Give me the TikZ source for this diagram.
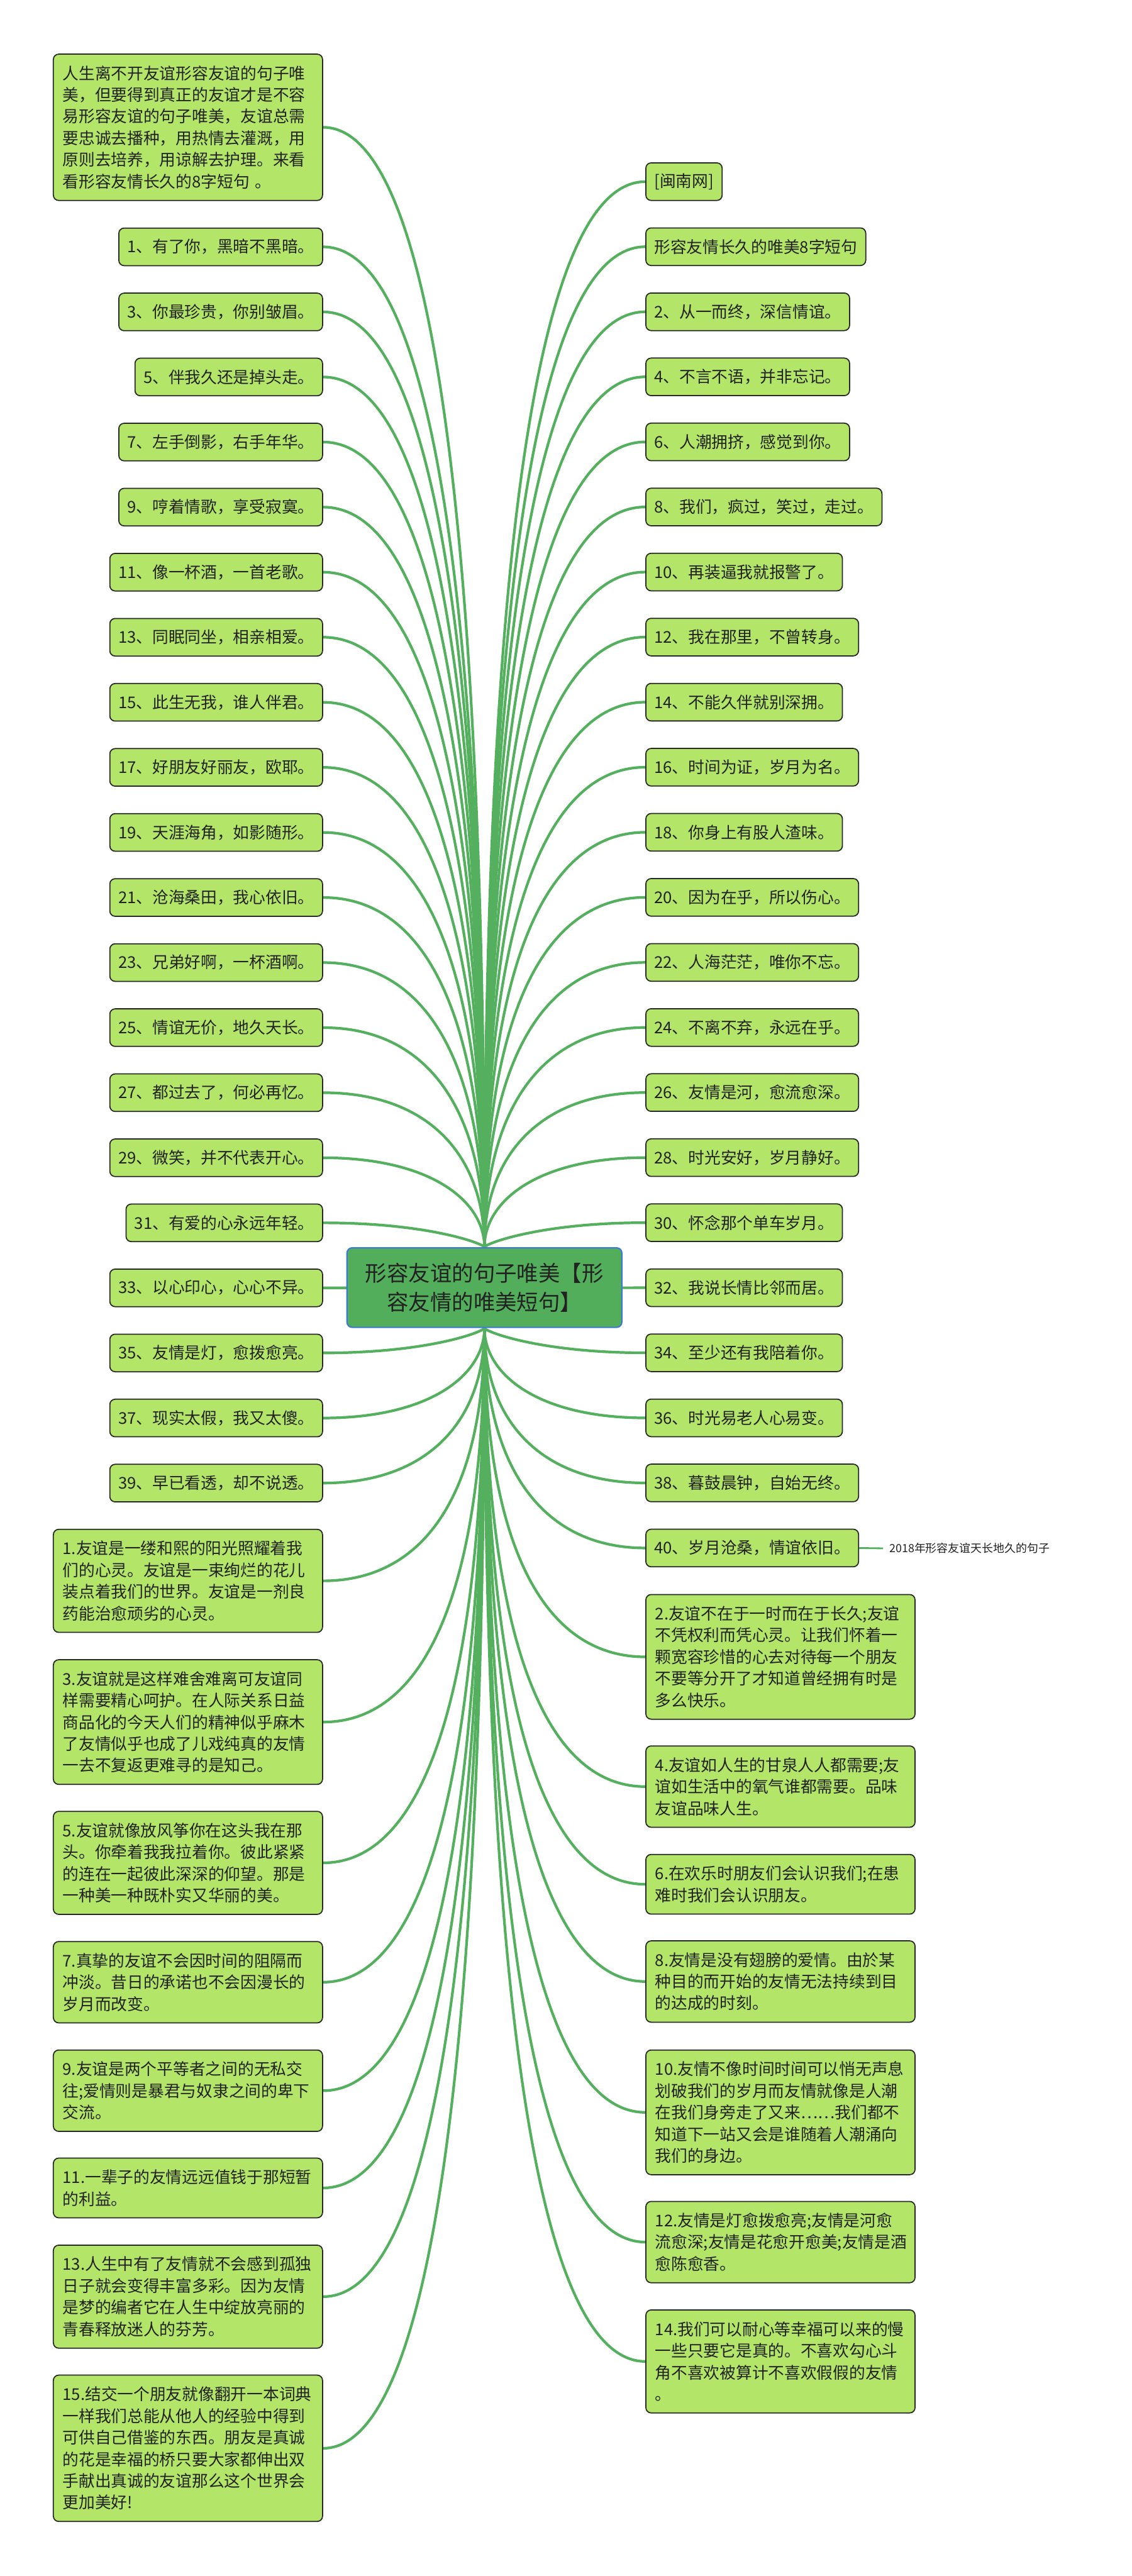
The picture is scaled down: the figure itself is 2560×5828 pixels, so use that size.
\documentclass[tikz,border=0pt]{standalone}
\usepackage{fontspec}
\setmainfont{Noto Sans CJK SC}
\usetikzlibrary{calc}
\definecolor{boxfill}{RGB}{179,230,104}
\definecolor{boxline}{RGB}{40,40,40}
\definecolor{edgec}{RGB}{84,176,94}
\definecolor{rootfill}{RGB}{82,174,90}
\definecolor{rootline}{RGB}{58,122,214}
\definecolor{txt}{RGB}{34,34,34}
\pgfdeclarelayer{background}
\pgfsetlayers{background,main}
\newcommand\lnk[2]{\draw[conn] (#1) .. controls ($(#1)!0.6667!(#2 -| #1)$) and ($(#2)!0.6667!(#2 -| #1)$) .. (#2);}
\begin{document}
\begin{tikzpicture}[x=1pt,y=-1pt,
  sbox/.style={draw=boxline, fill=boxfill, line width=2.5pt, rounded corners=12pt, inner xsep=19pt, inner ysep=0pt, minimum height=85pt, text=txt, font=\fontsize{36.6}{49}\selectfont},
  lbox/.style={sbox, text width=567pt, align=left, inner xsep=21pt},
  conn/.style={draw=edgec, line width=6pt},
  root/.style={draw=rootline, fill=rootfill, line width=3pt, rounded corners=12pt, minimum width=622pt, minimum height=180pt, inner sep=0pt, align=center, text=txt, font=\fontsize{49}{66}\selectfont},
  note/.style={anchor=west, inner xsep=14pt, inner ysep=0pt, text=txt, font=\fontsize{25.5}{30}\selectfont}]
\begin{pgfonlayer}{background}
\fill[white] (0,0) rectangle (2560,5828);
\end{pgfonlayer}
\useasboundingbox (0,0) rectangle (2560,5828);

\node[root] (cn) at (1096,2913) {形容友谊的句子唯美【形\\容友情的唯美短句】};

% left intro
\node[lbox, anchor=east, minimum height=331pt] (intro) at (731,288) {人生离不开友谊形容友谊的句子唯\\美，但要得到真正的友谊才是不容\\易形容友谊的句子唯美，友谊总需\\要忠诚去播种，用热情去灌溉，用\\原则去培养，用谅解去护理。来看\\看形容友情长久的8字短句 。};

% left short
\foreach \lbl [count=\i from 0] in {1、有了你，黑暗不黑暗。, 3、你最珍贵，你别皱眉。, 5、伴我久还是掉头走。, 7、左手倒影，右手年华。, 9、哼着情歌，享受寂寞。, 11、像一杯酒，一首老歌。, 13、同眠同坐，相亲相爱。, 15、此生无我，谁人伴君。, 17、好朋友好丽友，欧耶。, 19、天涯海角，如影随形。, 21、沧海桑田，我心依旧。, 23、兄弟好啊，一杯酒啊。, 25、情谊无价，地久天长。, 27、都过去了，何必再忆。, 29、微笑，并不代表开心。, 31、有爱的心永远年轻。, 33、以心印心，心心不异。, 35、友情是灯，愈拨愈亮。, 37、现实太假，我又太傻。, 39、早已看透，却不说透。} {
  \node[sbox, anchor=east] (L\i) at (731,558.5+147.2*\i) {\lbl};
  \begin{pgfonlayer}{background}\lnk{cn}{L\i.east}\end{pgfonlayer}
}

% right short
\foreach \lbl [count=\i from 0] in {{[闽南网]}, 形容友情长久的唯美8字短句, 2、从一而终，深信情谊。, 4、不言不语，并非忘记。, 6、人潮拥挤，感觉到你。, 8、我们，疯过，笑过，走过。, 10、再装逼我就报警了。, 12、我在那里，不曾转身。, 14、不能久伴就别深拥。, 16、时间为证，岁月为名。, 18、你身上有股人渣味。, 20、因为在乎，所以伤心。, 22、人海茫茫，唯你不忘。, 24、不离不弃，永远在乎。, 26、友情是河，愈流愈深。, 28、时光安好，岁月静好。, 30、怀念那个单车岁月。, 32、我说长情比邻而居。, 34、至少还有我陪着你。, 36、时光易老人心易变。, 38、暮鼓晨钟，自始无终。, 40、岁月沧桑，情谊依旧。} {
  \node[sbox, anchor=west] (R\i) at (1460,411+147.2*\i) {\lbl};
  \begin{pgfonlayer}{background}\lnk{cn}{R\i.west}\end{pgfonlayer}
}

\node[note] (lab) at (1998,3503) {2018年形容友谊天长地久的句子};
\draw[conn, line width=4pt] (R21.east) -- (lab.west);

% left long
\node[lbox, anchor=east, minimum height=233pt] (LL1) at (731,3576.5) {1.友谊是一缕和熙的阳光照耀着我\\们的心灵。友谊是一束绚烂的花儿\\装点着我们的世界。友谊是一剂良\\药能治愈顽劣的心灵。};
\node[lbox, anchor=east, minimum height=282pt] (LL3) at (731,3896) {3.友谊就是这样难舍难离可友谊同\\样需要精心呵护。在人际关系日益\\商品化的今天人们的精神似乎麻木\\了友情似乎也成了儿戏纯真的友情\\一去不复返更难寻的是知己。};
\node[lbox, anchor=east, minimum height=233pt] (LL5) at (731,4214.5) {5.友谊就像放风筝你在这头我在那\\头。你牵着我我拉着你。彼此紧紧\\的连在一起彼此深深的仰望。那是\\一种美一种既朴实又华丽的美。};
\node[lbox, anchor=east, minimum height=184pt] (LL7) at (731,4484.5) {7.真挚的友谊不会因时间的阻隔而\\冲淡。昔日的承诺也不会因漫长的\\岁月而改变。};
\node[lbox, anchor=east, minimum height=184pt] (LL9) at (731,4730) {9.友谊是两个平等者之间的无私交\\往;爱情则是暴君与奴隶之间的卑下\\交流。};
\node[lbox, anchor=east, minimum height=135pt] (LL11) at (731,4950) {11.一辈子的友情远远值钱于那短暂\\的利益。};
\node[lbox, anchor=east, minimum height=233pt] (LL13) at (731,5196) {13.人生中有了友情就不会感到孤独\\日子就会变得丰富多彩。因为友情\\是梦的编者它在人生中绽放亮丽的\\青春释放迷人的芬芳。};
\node[lbox, anchor=east, minimum height=331pt] (LL15) at (731,5539) {15.结交一个朋友就像翻开一本词典\\一样我们总能从他人的经验中得到\\可供自己借鉴的东西。朋友是真诚\\的花是幸福的桥只要大家都伸出双\\手献出真诚的友谊那么这个世界会\\更加美好!};

% right long
\node[lbox, anchor=west, minimum height=282pt] (RR2) at (1460,3748.5) {2.友谊不在于一时而在于长久;友谊\\不凭权利而凭心灵。让我们怀着一\\颗宽容珍惜的心去对待每一个朋友\\不要等分开了才知道曾经拥有时是\\多么快乐。};
\node[lbox, anchor=west, minimum height=184pt] (RR4) at (1460,4042) {4.友谊如人生的甘泉人人都需要;友\\谊如生活中的氧气谁都需要。品味\\友谊品味人生。};
\node[lbox, anchor=west, minimum height=135pt] (RR6) at (1460,4263) {6.在欢乐时朋友们会认识我们;在患\\难时我们会认识朋友。};
\node[lbox, anchor=west, minimum height=184pt] (RR8) at (1460,4483) {8.友情是没有翅膀的爱情。由於某\\种目的而开始的友情无法持续到目\\的达成的时刻。};
\node[lbox, anchor=west, minimum height=282pt] (RR10) at (1460,4779) {10.友情不像时间时间可以悄无声息\\划破我们的岁月而友情就像是人潮\\在我们身旁走了又来……我们都不\\知道下一站又会是谁随着人潮涌向\\我们的身边。};
\node[lbox, anchor=west, minimum height=184pt] (RR12) at (1460,5072.5) {12.友情是灯愈拨愈亮;友情是河愈\\流愈深;友情是花愈开愈美;友情是酒\\愈陈愈香。};
\node[lbox, anchor=west, minimum height=233pt] (RR14) at (1460,5342.5) {14.我们可以耐心等幸福可以来的慢\\一些只要它是真的。不喜欢勾心斗\\角不喜欢被算计不喜欢假假的友情\\。};

\begin{pgfonlayer}{background}
\foreach \n in {intro,LL1,LL3,LL5,LL7,LL9,LL11,LL13,LL15} {\lnk{cn}{\n.east}}
\foreach \n in {RR2,RR4,RR6,RR8,RR10,RR12,RR14} {\lnk{cn}{\n.west}}
\end{pgfonlayer}
\end{tikzpicture}
\end{document}
